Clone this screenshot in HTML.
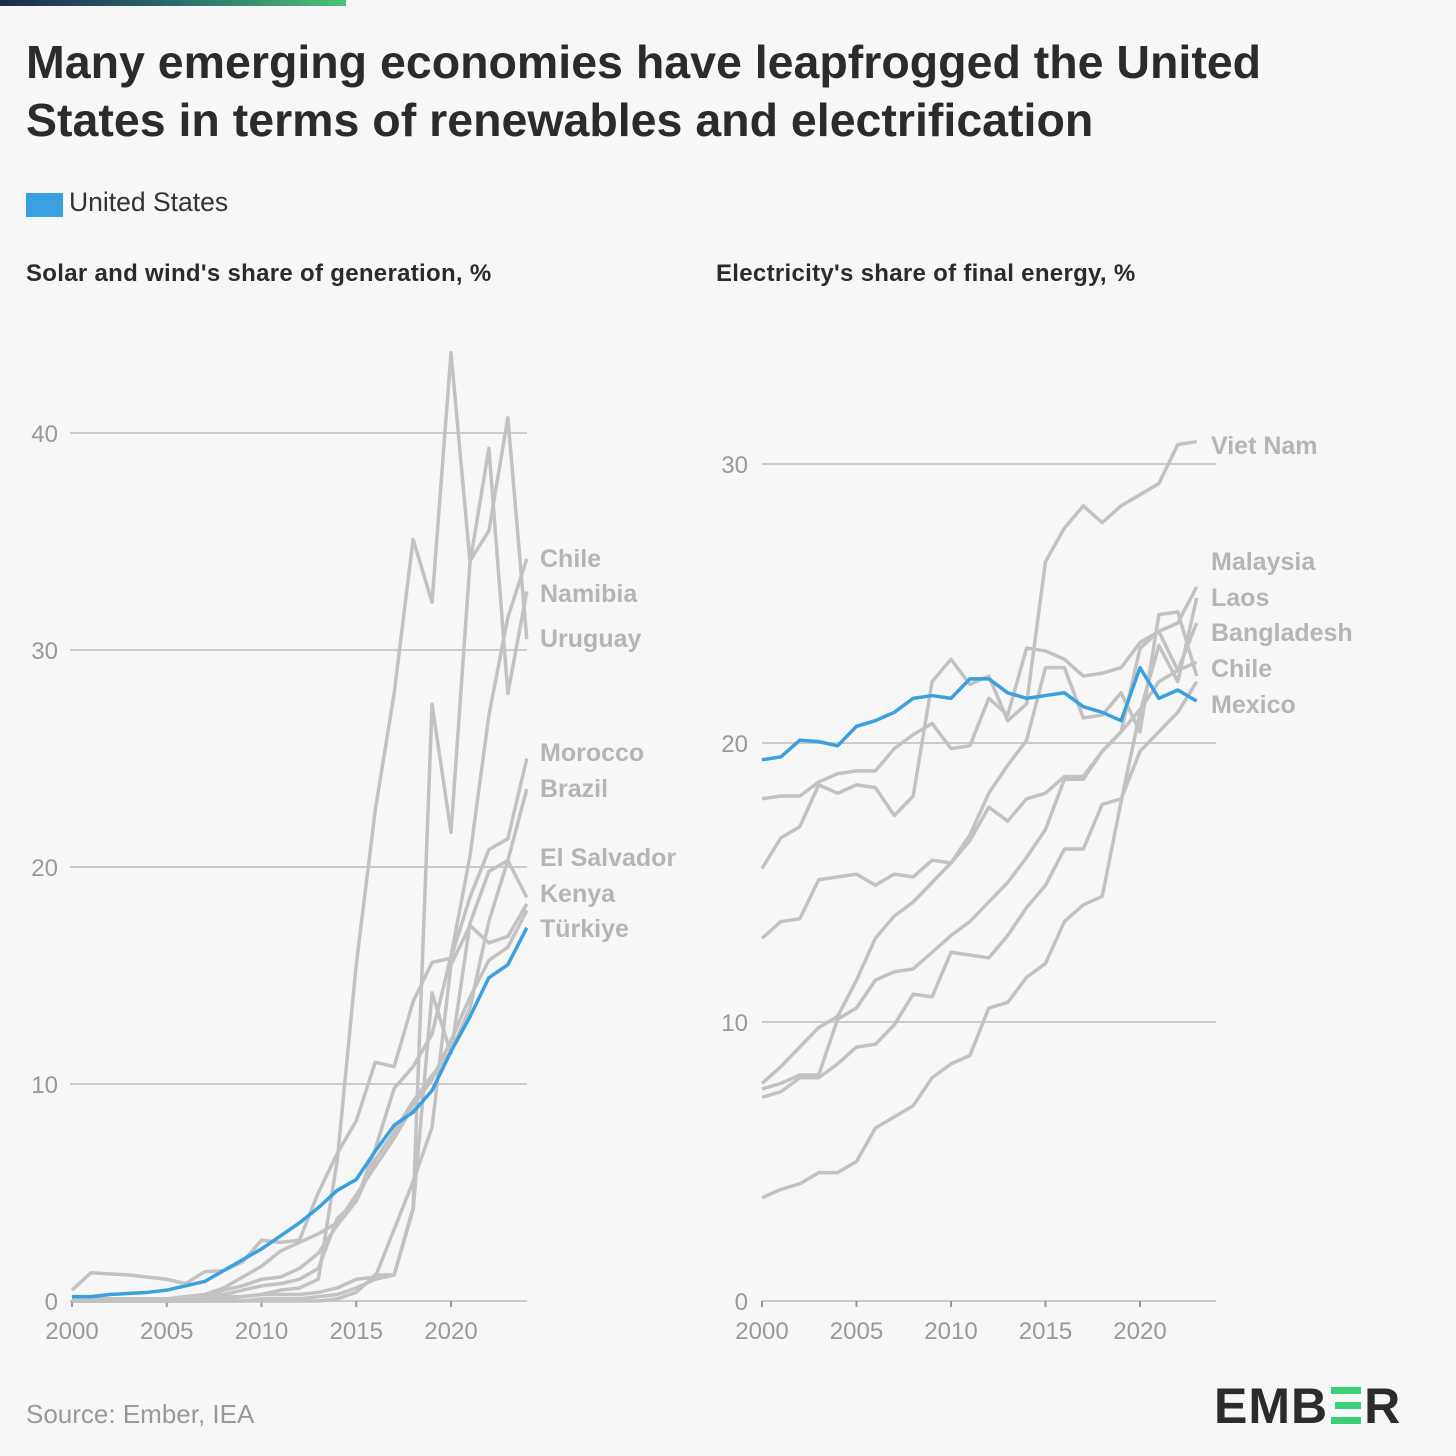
<!DOCTYPE html>
<html><head><meta charset="utf-8"><style>
body{margin:0;width:1456px;height:1456px;background:#f7f7f7;font-family:"Liberation Sans",sans-serif;overflow:hidden;position:relative}
.t{position:absolute;white-space:nowrap}
</style></head><body>
<div style="position:absolute;left:0;top:0;width:346px;height:6px;background:linear-gradient(90deg,#1e2a4a,#2a6a6a,#4cc474)"></div>
<div class="t" style="left:26px;top:33px;font-size:46.5px;font-weight:bold;color:#2b2b2b;line-height:58px">Many emerging economies have leapfrogged the United<br>States in terms of renewables and electrification</div>
<div style="position:absolute;left:26px;top:193px;width:37px;height:24px;background:#3aa0e0"></div>
<div class="t" style="left:69px;top:187px;font-size:26.5px;color:#333">United States</div>
<div class="t" style="left:26px;top:260px;font-size:24px;color:#2b2b2b;font-weight:bold;letter-spacing:0.3px">Solar and wind's share of generation, %</div>
<div class="t" style="left:716px;top:260px;font-size:24px;color:#2b2b2b;font-weight:bold;letter-spacing:0.3px">Electricity's share of final energy, %</div>
<div class="t" style="left:26px;top:1399px;font-size:26px;color:#999">Source: Ember, IEA</div>
<div style="position:absolute;left:1214px;top:1381px;font-size:50px;font-weight:bold;color:#2b2b2b;letter-spacing:1px;line-height:50px">EMB<span style="display:inline-block;width:30px;height:37px;position:relative;vertical-align:-1px;margin:0 3px"><i style="position:absolute;left:0;top:0;width:30px;height:7px;background:#3ccf78"></i><i style="position:absolute;left:4px;top:15px;width:26px;height:7px;background:#3ccf78"></i><i style="position:absolute;left:0;top:30px;width:30px;height:7px;background:#3ccf78"></i></span>R</div>
<svg id="svg" width="1456" height="1456" style="position:absolute;left:0;top:0"></svg>
<script>
const leftYears=[2000,2001,2002,2003,2004,2005,2006,2007,2008,2009,2010,2011,2012,2013,2014,2015,2016,2017,2018,2019,2020,2021,2022,2023,2024];
const leftTicks=[0,10,20,30,40];
const leftXTicks=[2000,2005,2010,2015,2020];
const leftUS=[0.2,0.2,0.3,0.35,0.4,0.5,0.7,0.9,1.4,1.9,2.4,3.0,3.6,4.3,5.1,5.6,6.9,8.1,8.7,9.7,11.5,13.1,14.9,15.5,17.2];
const leftUruguay=[0,0,0,0,0,0,0,0,0.1,0.2,0.3,0.5,0.6,1.0,6.5,15.5,22.6,28.0,35.1,32.2,43.7,34.1,35.5,40.7,30.5];
const leftNamibia=[0,0,0,0,0,0,0,0,0,0,0.1,0.1,0.1,0.2,0.3,0.6,1.0,1.2,4.3,27.5,21.6,34.0,39.3,28.0,32.7];
const leftChile=[0.1,0.1,0.1,0.1,0.1,0.1,0.1,0.2,0.3,0.5,0.7,0.8,1.0,1.5,3.8,4.6,7.0,9.8,10.8,12.3,15.9,20.5,27.0,31.5,34.2];
const leftMorocco=[0.5,1.3,1.25,1.2,1.1,1.0,0.8,1.35,1.4,1.8,2.8,2.7,2.8,5.0,6.8,8.3,11.0,10.8,13.8,15.6,15.8,18.6,20.8,21.3,25.0];
const leftBrazil=[0,0,0,0,0,0,0.1,0.2,0.5,0.7,1.0,1.1,1.5,2.2,3.5,4.6,6.5,7.8,9.2,10.4,11.5,13.5,17.5,20.3,23.6];
const leftElSalvador=[0,0,0,0,0,0,0,0,0,0,0,0,0,0,0.1,0.4,1.2,1.2,4.2,14.2,11.4,17.4,19.8,20.3,18.6];
const leftKenya=[0.1,0.1,0.1,0.1,0.1,0.1,0.1,0.1,0.2,0.2,0.3,0.3,0.3,0.4,0.6,1.0,1.1,3.3,5.5,8.0,15.5,17.3,16.5,16.8,18.3];
const leftTurkiye=[0,0,0,0,0,0.1,0.2,0.3,0.6,1.1,1.6,2.3,2.7,3.1,3.6,4.9,6.2,7.5,9.0,10.2,12.0,14.0,15.7,16.3,18.0];
const leftLabels=["Chile","Namibia","Uruguay","Morocco","Brazil","El Salvador","Kenya","Türkiye"];

const rightYears=[2000,2001,2002,2003,2004,2005,2006,2007,2008,2009,2010,2011,2012,2013,2014,2015,2016,2017,2018,2019,2020,2021,2022,2023];
const rightTicks=[0,10,20,30];
const rightXTicks=[2000,2005,2010,2015,2020];
const rightUS=[19.4,19.5,20.1,20.05,19.9,20.6,20.8,21.1,21.6,21.7,21.6,22.3,22.3,21.8,21.6,21.7,21.8,21.3,21.1,20.8,22.7,21.6,21.9,21.5];
const rightVietNam=[15.5,16.6,17.0,18.5,18.2,18.5,18.4,17.4,18.1,22.2,23.0,22.1,22.4,20.8,21.4,26.5,27.7,28.5,27.9,28.5,28.9,29.3,30.7,30.8];
const rightMalaysia=[18.0,18.1,18.1,18.6,18.9,19.0,19.0,19.8,20.3,20.7,19.8,19.9,21.6,21.0,23.4,23.3,23.0,22.4,22.5,22.7,23.6,24.0,24.3,25.6];
const rightChile=[13.0,13.6,13.7,15.1,15.2,15.3,14.9,15.3,15.2,15.8,15.7,16.5,17.7,17.2,18.0,18.2,18.8,18.8,19.7,20.4,21.2,22.2,22.6,22.9];
const rightOther=[7.8,8.4,9.1,9.8,10.2,11.5,13.0,13.8,14.3,15.0,15.7,16.7,18.2,19.2,20.1,22.7,22.7,20.9,21.0,21.8,20.4,24.6,24.7,22.4];
const rightBangladesh=[7.6,7.8,8.1,8.1,10.1,10.5,11.5,11.8,11.9,12.5,13.1,13.6,14.3,15.0,15.9,16.9,18.7,18.7,19.7,20.4,23.4,24.0,22.6,24.3];
const rightMexico=[7.3,7.5,8.0,8.0,8.5,9.1,9.2,9.9,11.0,10.9,12.5,12.4,12.3,13.1,14.1,14.9,16.2,16.2,17.8,18.0,19.7,20.4,21.1,22.2];
const rightLaos=[3.7,4.0,4.2,4.6,4.6,5.0,6.2,6.6,7.0,8.0,8.5,8.8,10.5,10.7,11.6,12.1,13.6,14.2,14.5,17.9,21.1,23.5,22.2,25.2];
const rightLabels=["Viet Nam","Malaysia","Laos","Bangladesh","Chile","Mexico"];

const NS="http://www.w3.org/2000/svg";
const svg=document.getElementById('svg');
function mk(tag,attrs){const e=document.createElementNS(NS,tag);for(const k in attrs)e.setAttribute(k,attrs[k]);svg.appendChild(e);return e;}
const L={x0:72,y0:1301,y40:433};
const R={x0:762,y0:1301,yTop:464};
const lx=y=>L.x0+(y-2000)*(451-72)/20;
const ly=v=>L.y0-v*(L.y0-L.y40)/40;
const rx=y=>R.x0+(y-2000)*(1140-762)/20;
const ry=v=>R.y0-v*(R.y0-R.yTop)/30;
function axes(ticks,xt,fx,fy,xs,xe,lblX,pfx){
  ticks.forEach(t=>{
    const g=mk('line',{x1:xs,x2:xe,y1:fy(t),y2:fy(t),stroke:'#cccccc','stroke-width':2});
    
    
    const tx=mk('text',{x:lblX,y:fy(t)+9,'text-anchor':'end','font-size':24,fill:'#999','font-family':'Liberation Sans, sans-serif'});
    tx.textContent=t;
    
    
  });
  xt.forEach(y=>{
    const tk=mk('line',{x1:fx(y),x2:fx(y),y1:fy(0),y2:fy(0)+6,stroke:'#999','stroke-width':2});
    
    
    const tx=mk('text',{x:fx(y),y:fy(0)+38,'text-anchor':'middle','font-size':24,fill:'#999','font-family':'Liberation Sans, sans-serif'});
    tx.textContent=y;
    
    
  });
}
axes(leftTicks,leftXTicks,lx,ly,70,527,58,'left');
axes(rightTicks,rightXTicks,rx,ry,762,1216,748,'right');
function series(years,vals,fx,fy,color,name){
  const p=mk('polyline',{points:years.map((y,i)=>fx(y)+','+fy(vals[i])).join(' '),fill:'none',stroke:color,'stroke-width':3.5,'stroke-linejoin':'round'});
  
  
}
const G='#c2c2c2';
[[leftUruguay,'uruguay'],[leftNamibia,'namibia'],[leftChile,'chile'],[leftMorocco,'morocco'],[leftBrazil,'brazil'],[leftElSalvador,'el-salvador'],[leftKenya,'kenya'],[leftTurkiye,'turkiye']].forEach(s=>series(leftYears,s[0],lx,ly,G,'left-line-'+s[1]));
series(leftYears,leftUS,lx,ly,'#3aa0e0','left-line-united-states');
[[rightVietNam,'viet-nam'],[rightMalaysia,'malaysia'],[rightChile,'chile'],[rightOther,'other'],[rightBangladesh,'bangladesh'],[rightMexico,'mexico'],[rightLaos,'laos']].forEach(s=>series(rightYears,s[0],rx,ry,G,'right-line-'+s[1]));
series(rightYears,rightUS,rx,ry,'#3aa0e0','right-line-united-states');
const lLabY=[558,593,638,752,788,857,893,928];
leftLabels.forEach((n,i)=>{
  const t=mk('text',{x:540,y:lLabY[i]+9,'font-size':25,fill:'#b5b5b5','font-weight':'bold','font-family':'Liberation Sans, sans-serif'});
  t.textContent=n;
  
  
});
const rLabY=[445,561,597,632,668,704];
rightLabels.forEach((n,i)=>{
  const t=mk('text',{x:1211,y:rLabY[i]+9,'font-size':25,fill:'#b5b5b5','font-weight':'bold','font-family':'Liberation Sans, sans-serif'});
  t.textContent=n;
  
  
});
</script>
</body></html>
